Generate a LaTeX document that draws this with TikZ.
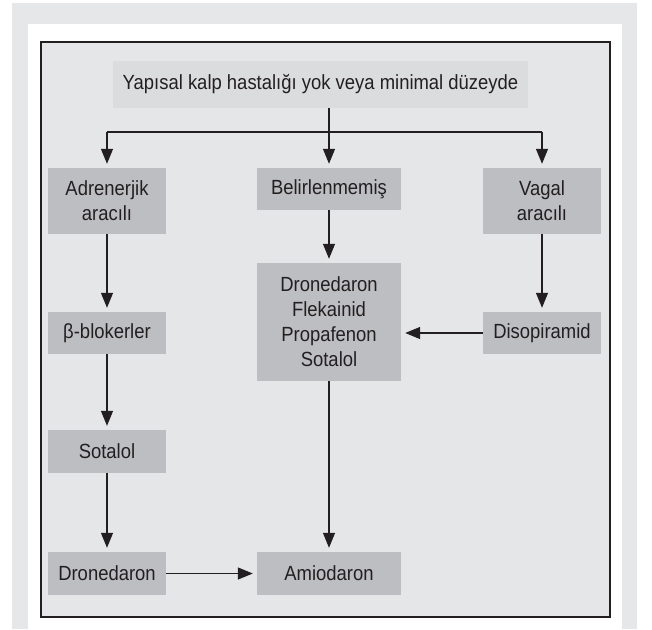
\documentclass[tikz,border=0pt]{standalone}
\usepackage{fontspec}
\setmainfont[FakeStretch=0.9]{Liberation Sans}
\usetikzlibrary{arrows.meta}
\definecolor{framegray}{HTML}{E6E7E8}
\definecolor{panelgray}{HTML}{E5E6E8}
\definecolor{headgray}{HTML}{DBDCDE}
\definecolor{boxgray}{HTML}{BDBEC1}
\definecolor{ink}{HTML}{231F20}
\tikzset{
  drug/.style={fill=boxgray, draw=none, text=ink, align=center, inner sep=0pt,
    font=\fontsize{20.5}{25}\selectfont},
  arr/.style={draw=ink, line width=1.3pt,
    -{Triangle[length=15pt,width=12pt]}, shorten >=4pt},
  link/.style={draw=ink, line width=1.3pt},
}
\begin{document}
\begin{tikzpicture}[x=1pt, y=-1pt]
\useasboundingbox (0,0) rectangle (652,629);
% page backdrop and frame
\fill[white] (0,0) rectangle (652,629);
\fill[framegray] (12,3) rectangle (637,629);
\fill[white] (28,24) rectangle (622,629);
\filldraw[fill=panelgray, draw=ink, line width=2.5pt] (41,42) rectangle (610,617);

% boxes
\node[drug, fill=headgray, minimum width=415pt, minimum height=47pt] (top) at (320.5,84.5)
  {Yapısal kalp hastalığı yok veya minimal düzeyde};
\node[drug, minimum width=118pt, minimum height=66pt] (adr) at (107,201) {Adrenerjik\\aracılı};
\node[drug, minimum width=144pt, minimum height=42pt] (bel) at (329,189) {Belirlenmemiş};
\node[drug, minimum width=118pt, minimum height=66pt] (vag) at (542,201) {Vagal\\aracılı};
\node[drug, minimum width=144pt, minimum height=118pt] (mix) at (329,322)
  {Dronedaron\\Flekainid\\Propafenon\\Sotalol};
\node[drug, minimum width=118pt, minimum height=42pt] (diso) at (542,333) {Disopiramid};
\node[drug, minimum width=118pt, minimum height=42pt] (beta) at (107,333) {β-blokerler};
\node[drug, minimum width=118pt, minimum height=43pt] (sot) at (107,451.5) {Sotalol};
\node[drug, minimum width=118pt, minimum height=43pt] (dro) at (107,573.5) {Dronedaron};
\node[drug, minimum width=144pt, minimum height=43pt] (ami) at (329,573.5) {Amiodaron};

% branching from the head box
\coordinate (split) at (329,132);
\draw[link] (top.south -| split) -- (split);
\draw[link] (split -| adr) -- (split -| vag);
\draw[arr] (split -| adr) -- (adr);
\draw[arr] (split) -- (bel);
\draw[arr] (split -| vag) -- (vag);

% chains
\draw[arr] (adr) -- (beta);
\draw[arr] (beta) -- (sot);
\draw[arr] (sot) -- (dro);
\draw[arr] (dro) -- (ami);
\draw[arr] (bel) -- (mix);
\draw[arr] (mix) -- (ami);
\draw[arr] (vag) -- (diso);
\draw[arr] (diso) -- (diso -| mix.east);
\end{tikzpicture}
\end{document}
